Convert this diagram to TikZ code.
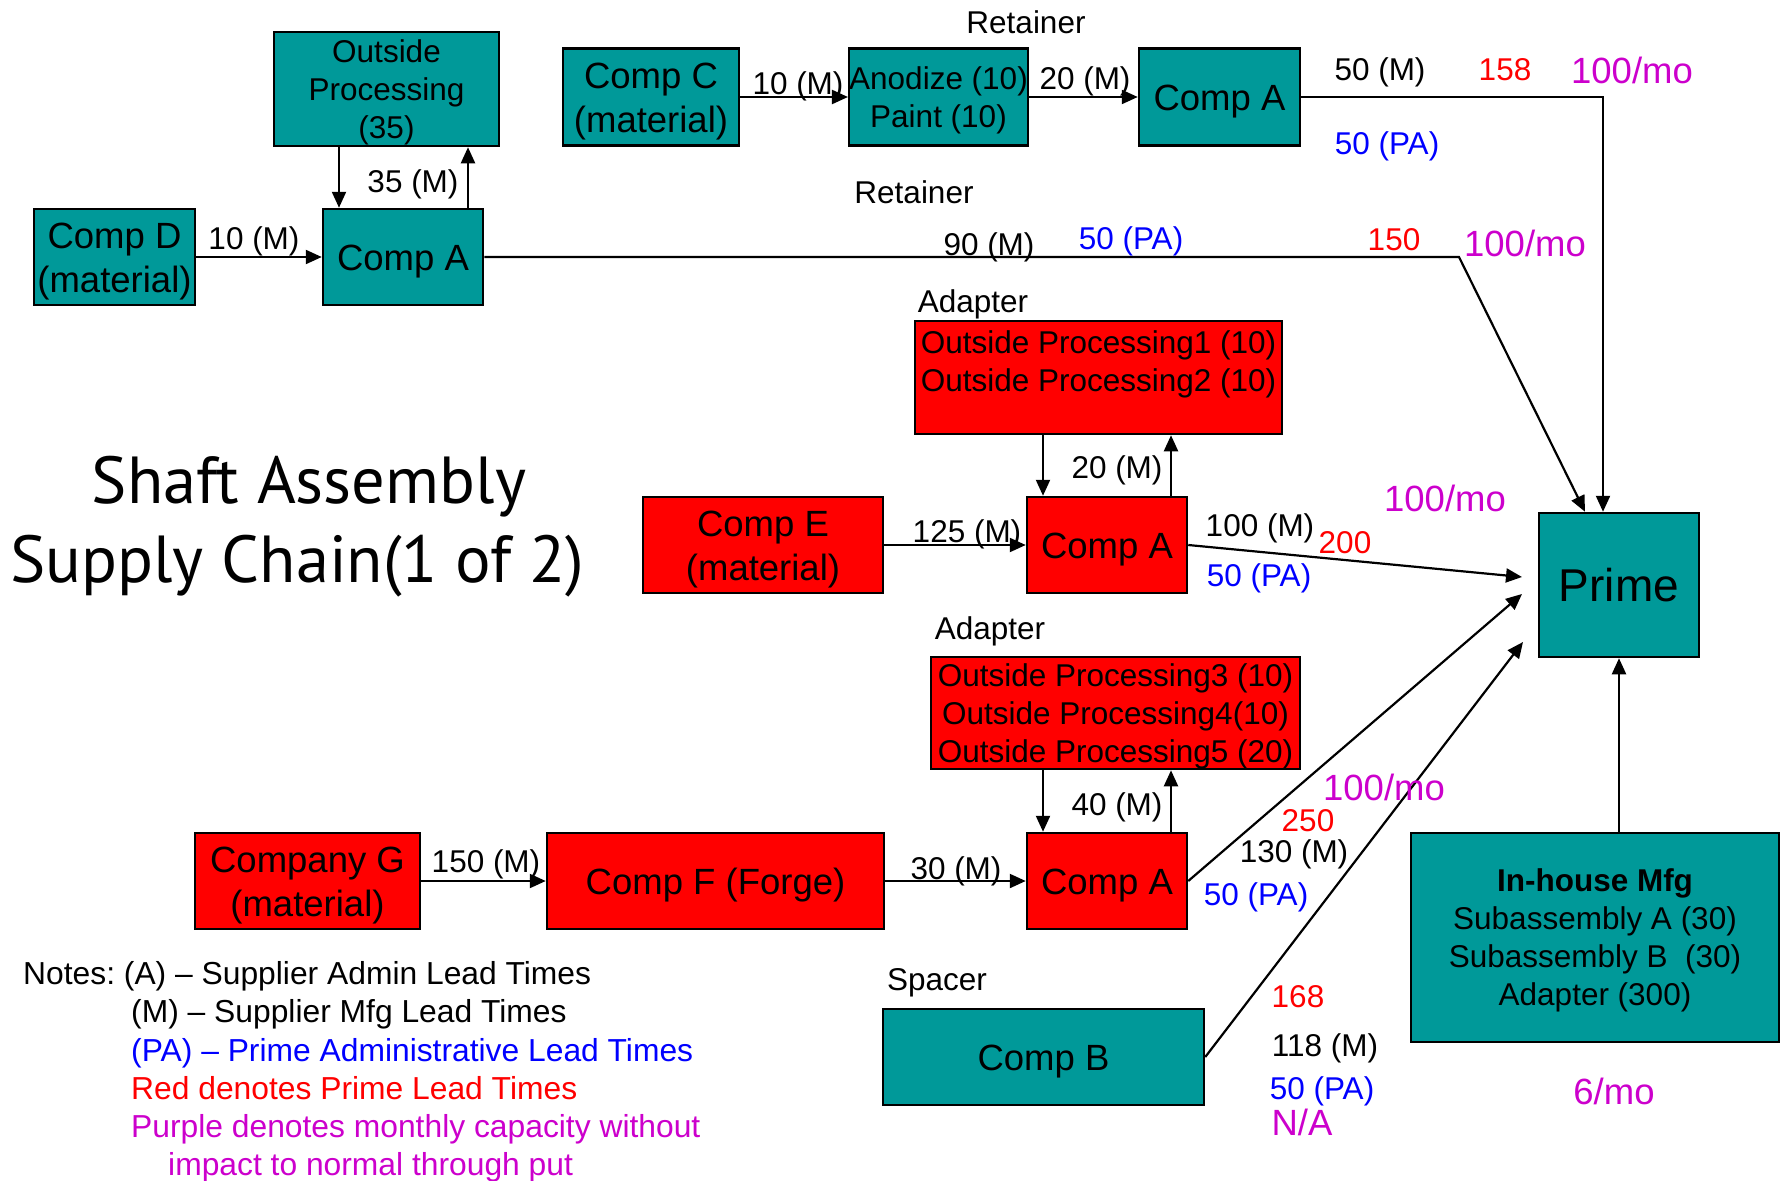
\documentclass[tikz,border=0pt]{standalone}
\usepackage{fontspec}
\setmainfont{Liberation Sans}
\newfontfamily\titlefont{PT Sans}
\usetikzlibrary{arrows.meta}
\frenchspacing

\definecolor{boxteal}{RGB}{0,153,153}
\definecolor{boxred}{RGB}{255,0,0}
\definecolor{capblue}{RGB}{0,0,255}
\definecolor{capred}{RGB}{255,0,0}
\definecolor{cappurple}{RGB}{204,0,204}

% invisible struts that make box texts sit on the middle of their capitals
\newcommand\topstrutx{\rule{0pt}{0.931em}}
\newcommand\botstrutx{\rule[-0.215em]{0pt}{0.215em}}

\tikzset{
  box/.style={draw=black, line width=2.5pt, inner sep=0pt, align=center},
  tealbox/.style={box, fill=boxteal},
  redbox/.style={box, fill=boxred},
  bigtext/.style={font=\fontsize{36.5pt}{44pt}\selectfont},
  smalltext/.style={font=\fontsize{31.5pt}{38pt}\selectfont},
  lbl/.style={inner sep=0pt, smalltext},
  pa/.style={lbl, text=capblue},
  lt/.style={lbl, text=capred},
  capacity/.style={inner sep=0pt, bigtext, text=cappurple},
  note/.style={inner sep=0pt, font=\fontsize{31.8pt}{38pt}\selectfont, anchor=base west},
  heading/.style={inner sep=0pt, anchor=base, font=\titlefont\fontsize{66.5pt}{79pt}\selectfont},
  arr/.style={line width=2.2pt, -{Triangle[length=16pt,width=14pt]}}
}

\begin{document}
\begin{tikzpicture}[x=1pt,y=-1pt]
\useasboundingbox (0,0) rectangle (1781,1181);

% ---------- boxes ----------
\node[tealbox, smalltext, minimum width=225pt, minimum height=114pt] (op35) at (386.5,89) {\topstrutx Outside\\Processing\\(35)\botstrutx};
\node[tealbox, bigtext, minimum width=161pt, minimum height=96pt] (compD) at (114.5,257) {\topstrutx Comp D\\(material)\botstrutx};
\node[tealbox, bigtext, minimum width=160pt, minimum height=96pt] (compA2) at (403,257) {\topstrutx\botstrutx Comp A};
\node[tealbox, bigtext, minimum width=176pt, minimum height=97pt] (compC) at (651,97) {\topstrutx Comp C\\(material)\botstrutx};
\node[tealbox, smalltext, minimum width=177pt, minimum height=97pt] (anod) at (938.5,97) {\topstrutx Anodize (10)\\Paint (10)\botstrutx};
\node[tealbox, bigtext, minimum width=161pt, minimum height=97pt] (compA1) at (1219.5,97) {\topstrutx\botstrutx Comp A};

\node[redbox, minimum width=367pt, minimum height=113pt] (op12) at (1098.5,377.5) {};
\node[inner sep=0pt, smalltext, align=center] (op12t) at (1098.5,364) {Outside Processing1 (10)\\Outside Processing2 (10)};
\node[redbox, bigtext, minimum width=240pt, minimum height=96pt] (compE) at (763,545) {\topstrutx Comp E\\(material)\botstrutx};
\node[redbox, bigtext, minimum width=160pt, minimum height=96pt] (compA3) at (1107,545) {\topstrutx\botstrutx Comp A};

\node[tealbox, minimum width=160pt, minimum height=144pt, font=\fontsize{46pt}{55pt}\selectfont] (prime) at (1619,585) {\topstrutx\botstrutx Prime};

\node[redbox, smalltext, minimum width=369pt, minimum height=112pt] (op345) at (1115.5,713) {\topstrutx Outside Processing3 (10)\\Outside Processing4(10)\\Outside Processing5 (20)\botstrutx};
\node[redbox, bigtext, minimum width=225pt, minimum height=96pt] (compG) at (307.5,881) {\topstrutx Company G\\(material)\botstrutx};
\node[redbox, bigtext, minimum width=337pt, minimum height=96pt] (compF) at (715.5,881) {\topstrutx\botstrutx Comp F (Forge)};
\node[redbox, bigtext, minimum width=160pt, minimum height=96pt] (compA4) at (1107,881) {\topstrutx\botstrutx Comp A};
\node[tealbox, bigtext, minimum width=321pt, minimum height=96pt] (compB) at (1043.5,1057) {\topstrutx\botstrutx Comp B};
\node[tealbox, smalltext, minimum width=368pt, minimum height=209pt] (inhouse) at (1595,937.5) {\topstrutx\textbf{In-house Mfg}\\Subassembly A (30)\\Subassembly B\ \ (30)\\Adapter (300)\botstrutx};

% ---------- title ----------
\node[heading] (title1) at (309,503) {Shaft Assembly};
\node[heading] (title2) at (297.5,582) {Supply Chain(1 of 2)};

% ---------- helper columns for the vertical links ----------
\coordinate (xa) at (339,0);
\coordinate (xb) at (468,0);
\coordinate (xc) at (1043,0);
\coordinate (xd) at (1171,0);
\coordinate (xr) at (1603,0);
\coordinate (xs) at (1585,0);
\coordinate (bend2) at (1459,257);
\coordinate (tip3) at (1522,577);
\coordinate (tip4) at (1522,594);
\coordinate (tipB) at (1523,642);

% ---------- connectors ----------
\draw[arr] (compD) -- (compA2);
\draw[arr] (op35.south -| xa) -- (compA2.north -| xa);
\draw[arr] (compA2.north -| xb) -- (op35.south -| xb);
\draw[arr] (compC) -- (anod);
\draw[arr] (anod) -- (compA1);
\draw[arr] (compA1.east) -| (xr |- prime.north);
\draw[arr] (compA2.east) -- (bend2) -- (xs |- prime.north);

\draw[arr] (compE) -- (compA3);
\draw[arr] (op12.south -| xc) -- (compA3.north -| xc);
\draw[arr] (compA3.north -| xd) -- (op12.south -| xd);
\draw[arr] (compA3.east) -- (tip3);

\draw[arr] (compG) -- (compF);
\draw[arr] (compF) -- (compA4);
\draw[arr] (op345.south -| xc) -- (compA4.north -| xc);
\draw[arr] (compA4.north -| xd) -- (op345.south -| xd);
\draw[arr] (compA4.east) -- (tip4);
\draw[arr] (compB.east) -- (tipB);
\draw[arr] (inhouse.north -| prime.south) -- (prime.south);

% ---------- part names ----------
\node[lbl] (ret1) at (1026,22) {Retainer};
\node[lbl] (ret2) at (914,192) {Retainer};
\node[lbl] (adp1) at (973,304) {Adapter};
\node[lbl] (adp2) at (990,631) {Adapter};
\node[lbl] (spc) at (937,983) {Spacer};

% ---------- supplier lead times ----------
\node[lbl] (m1) at (254,241) {10 (M)};
\node[lbl] (m2) at (413,184) {35 (M)};
\node[lbl] (m3) at (798,86) {10 (M)};
\node[lbl] (m4) at (1085,81) {20 (M)};
\node[lbl] (m5) at (1380,72) {50 (M)};
\node[lbl] (m6) at (989,247) {90 (M)};
\node[lbl] (m7) at (1117,470) {20 (M)};
\node[lbl] (m8) at (967,534) {125 (M)};
\node[lbl] (m9) at (1260,528) {100 (M)};
\node[lbl] (m10) at (486,864) {150 (M)};
\node[lbl] (m11) at (956,871) {30 (M)};
\node[lbl] (m12) at (1117,807) {40 (M)};
\node[lbl] (m13) at (1294,854) {130 (M)};
\node[lbl] (m14) at (1325,1048) {118 (M)};

% ---------- prime lead times ----------
\node[lt] (r1) at (1505,70) {158};
\node[lt] (r2) at (1394,240) {150};
\node[lt] (r3) at (1345,543) {200};
\node[lt] (r4) at (1308,821) {250};
\node[lt] (r5) at (1298,997) {168};

% ---------- prime admin lead times ----------
\node[pa] (p1) at (1387,146) {50 (PA)};
\node[pa] (p2) at (1131,241) {50 (PA)};
\node[pa] (p3) at (1259,578) {50 (PA)};
\node[pa] (p4) at (1256,897) {50 (PA)};
\node[pa] (p5) at (1322,1091) {50 (PA)};

% ---------- monthly capacities ----------
\node[capacity] (c1) at (1632,70) {100/mo};
\node[capacity] (c2) at (1525,243) {100/mo};
\node[capacity] (c3) at (1445,498) {100/mo};
\node[capacity] (c4) at (1384,787) {100/mo};
\node[capacity] (c5) at (1302,1122) {N/A};
\node[capacity] (c6) at (1614,1091) {6/mo};

% ---------- notes ----------
\node[note] (n1) at (23,984.5) {Notes: (A) -- Supplier Admin Lead Times};
\node[note] (n2) at (131,1022.5) {(M) -- Supplier Mfg Lead Times};
\node[note, text=capblue] (n3) at (131,1061) {(PA) -- Prime Administrative Lead Times};
\node[note, text=capred] (n4) at (131,1099.5) {Red denotes Prime Lead Times};
\node[note, text=cappurple] (n5) at (131,1137.5) {Purple denotes monthly capacity without};
\node[note, text=cappurple] (n6) at (168,1175) {impact to normal through put};
\end{tikzpicture}
\end{document}
